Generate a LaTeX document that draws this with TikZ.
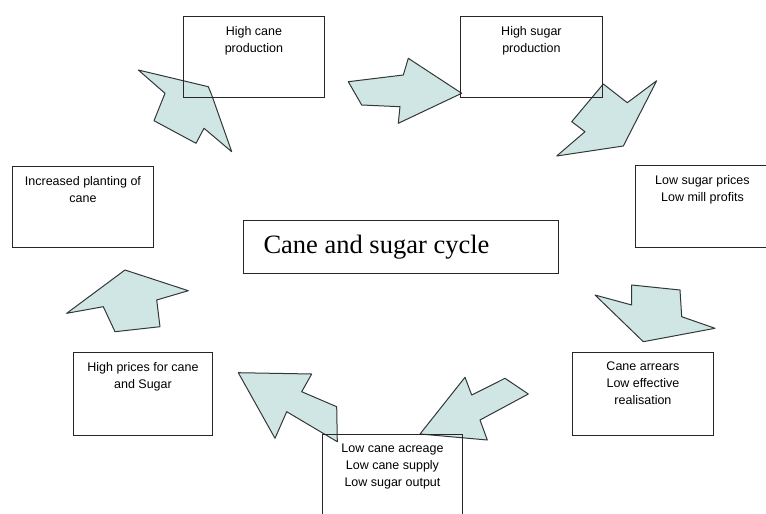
\documentclass[tikz,border=0pt]{standalone}
\usepackage{fontspec}
\setmainfont{Liberation Sans}
\newfontfamily\cyclefont{Liberation Serif}
\definecolor{arrowfill}{RGB}{208,230,228}
\definecolor{edge}{RGB}{50,55,55}
\newcommand{\boxtext}[3]{\parbox[t][#2pt][t]{#1pt}{\centering\vspace*{9.5pt}#3}}
\begin{document}
\begin{tikzpicture}[x=1pt,y=-1pt,
  bx/.style={draw=black!85, line width=0.9pt, inner sep=0pt, anchor=north west,
    font=\fontsize{12.5}{17}\selectfont},
  fat/.style={draw=edge, fill=arrowfill, line width=1pt, line join=round}]
\useasboundingbox (0,0) rectangle (766,514);
\clip (0,0) rectangle (766,514);
% block arrows
\draw[fat] (138.3,70) -- (208.3,86.7) -- (211.7,95) -- (231.7,151.7) -- (204,128.3)
  -- (196,143.3) -- (154,120.7) -- (165,93.3) -- cycle;
\draw[fat] (348.3,81.7) -- (403.3,75) -- (408.3,58.3) -- (461.7,93.3) -- (398.3,123.3)
  -- (400,106.7) -- (361.7,105) -- cycle;
\draw[fat] (603.3,84) -- (627.3,102.7) -- (656.7,80.7) -- (623.3,146) -- (556.7,156)
  -- (585,131.7) -- (571.7,121.7) -- cycle;
\draw[fat] (595,295) -- (631.7,305) -- (631.7,285) -- (680,290) -- (681.7,316.7)
  -- (715,328.3) -- (643.3,341.7) -- cycle;
\draw[fat] (420,434) -- (465,377.3) -- (471.7,395) -- (505,378.3) -- (528.3,394)
  -- (480,420) -- (487.3,440) -- cycle;
\draw[fat] (238.3,372.7) -- (311.7,374) -- (301.7,391.7) -- (336.7,406.7) -- (337.3,441.7)
  -- (286.7,411.7) -- (275,438.3) -- cycle;
\draw[fat] (66.7,313.3) -- (125,270) -- (188.3,290.7) -- (156.7,300) -- (160,326.7)
  -- (115,331.7) -- (103.3,306.7) -- cycle;
% boxes
\node[bx] (hcane) at (183,16) {\boxtext{141}{81}{High cane\\production}};
\node[bx] (hsugar) at (460,16) {\boxtext{142}{81}{High sugar\\production}};
\node[bx] (lowp) at (635,165) {\boxtext{140}{82}{\hspace*{-6pt}Low sugar prices\\\hspace*{-6pt}Low mill profits}};
\node[bx] (arrears) at (572,352) {\boxtext{141}{83}{Cane arrears\\Low effective\\realisation}};
\node[bx] (lowacre) at (322,434) {\boxtext{140}{90}{Low cane acreage\\Low cane supply\\Low sugar output}};
\node[bx] (highp) at (73,352) {\boxtext{139}{83}{High prices for cane\\and Sugar}};
\node[bx] (plant) at (12,166) {\boxtext{141}{81}{Increased planting of\\cane}};
\node[draw=black!85, line width=0.9pt, anchor=north west, minimum width=315pt,
  minimum height=53pt, inner sep=0pt, font=\cyclefont\fontsize{26.5}{30}\selectfont]
  (cycle) at (243,220) {\hspace*{-49pt}Cane and sugar cycle};
\end{tikzpicture}
\end{document}
